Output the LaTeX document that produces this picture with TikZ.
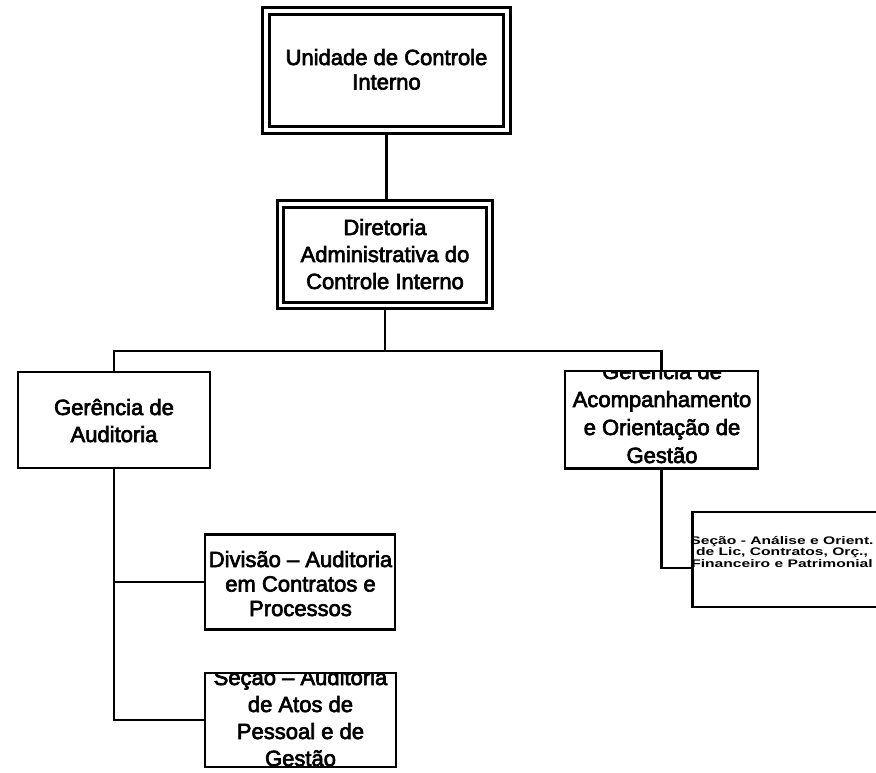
\documentclass[tikz,border=0pt]{standalone}
\usepackage{fontspec}
\setmainfont{Liberation Sans}
\newfontfamily\boxfont{Liberation Sans}[FakeBold=3]
\newfontfamily\widefont{Liberation Sans Bold}[FakeStretch=1.42]
\begin{document}
\begin{tikzpicture}[x=1pt,y=-1pt]
\tikzset{
  orgbox/.style={draw, line width=2.8pt, inner sep=0pt, outer sep=1.4pt},
  topbox/.style={draw, line width=3pt, double, double distance=3.2pt, inner sep=0pt, outer sep=4.6pt},
  boxtext/.style={align=center, inner sep=0pt, anchor=base},
  link/.style={line width=2.2pt}
}
\useasboundingbox (0,0) rectangle (876,772);
\clip (0,0) rectangle (876,772);

% box texts (anchored at the baseline of the last line), each clipped to its frame
\begin{scope}
  \clip (266,11) rectangle (507,130);
  \node[boxtext, font=\boxfont\fontsize{22}{24.5}\selectfont] (u1t) at (386.5,89.5) {Unidade de Controle\\Interno};
\end{scope}
\begin{scope}
  \clip (280.5,204) rectangle (489.5,305.5);
  \node[boxtext, font=\boxfont\fontsize{22}{27}\selectfont] (d1t) at (385,289) {Diretoria\\Administrativa do\\Controle Interno};
\end{scope}
\begin{scope}
  \clip (18,372) rectangle (210,468);
  \node[boxtext, font=\boxfont\fontsize{22}{27}\selectfont] (gat) at (114,442) {Gerência de\\Auditoria};
\end{scope}
\begin{scope}
  \clip (565,371) rectangle (758,468.5);
  \node[boxtext, font=\boxfont\fontsize{22}{28}\selectfont] (got) at (662,463) {Gerência de\\Acompanhamento\\e Orientação de\\Gestão};
\end{scope}
\begin{scope}
  \clip (205,535) rectangle (395,629.5);
  \node[boxtext, font=\boxfont\fontsize{22}{24.5}\selectfont] (dvt) at (300.5,616) {Divisão – Auditoria\\em Contratos e\\Processos};
\end{scope}
\begin{scope}
  \clip (205,673) rectangle (396,767);
  \node[boxtext, font=\boxfont\fontsize{22}{27}\selectfont] (sat) at (300.5,766) {Seção – Auditoria\\de Atos de\\Pessoal e de\\Gestão};
\end{scope}
\node[boxtext, font=\widefont\fontsize{11}{11.5}\selectfont] (sot) at (782,567) {Seção - Análise e Orient.\\de Lic, Contratos, Orç.,\\Financeiro e Patrimonial};

% frames
\node[topbox, minimum width=241pt, minimum height=119pt] (u1) at (386.5,70.5) {};
\node[topbox, minimum width=209pt, minimum height=101.5pt] (d1) at (385,254.75) {};
\node[orgbox, minimum width=192pt, minimum height=96pt] (ga) at (114,420) {};
\node[orgbox, minimum width=193pt, minimum height=97.5pt] (go) at (661.5,419.75) {};
\node[orgbox, minimum width=190pt, minimum height=95pt] (dv) at (300,582) {};
\node[orgbox, minimum width=191pt, minimum height=94pt] (sa) at (300.5,720) {};
\node[orgbox, minimum width=197pt, minimum height=95pt] (so) at (791,559.5) {};

% connectors
\coordinate (bus) at (385,351);
\coordinate (soin) at (692.5,568);
\draw[link] (u1.south) -- (u1.south |- d1.north);
\draw[link] (d1.south) -- (bus);
\draw[link] (ga.north) |- (bus) -| (go.north);
\draw[link] (ga.south) |- (dv.west);
\draw[link] (ga.south) |- (sa.west);
\draw[link] (go.south) |- (soin);
\end{tikzpicture}
\end{document}
